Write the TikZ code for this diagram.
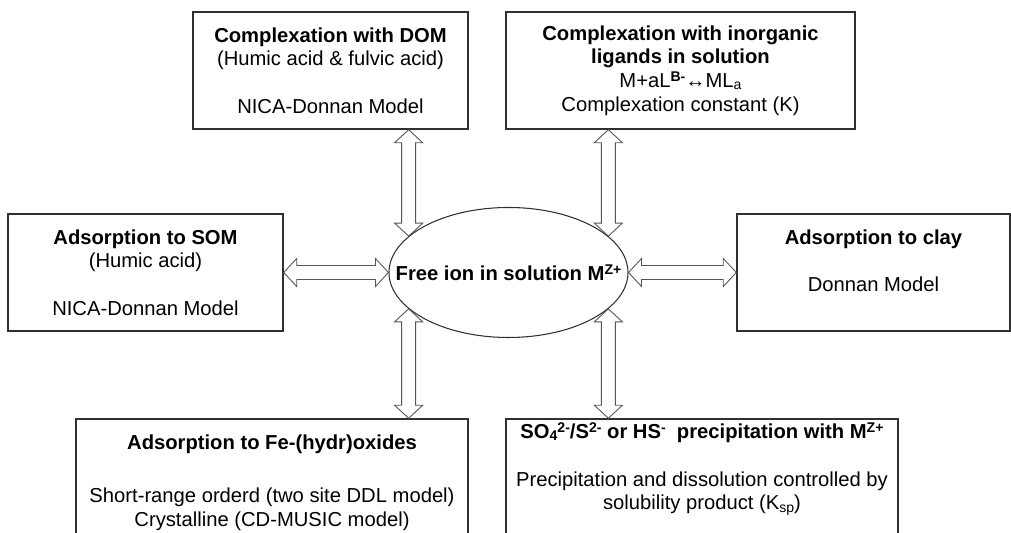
\documentclass[tikz,border=0pt]{standalone}
\usepackage{fontspec}
\setmainfont{Liberation Sans}
\usepackage{tikz}
\usetikzlibrary{positioning,calc}
\usetikzlibrary{shapes.geometric}

\definecolor{boxline}{HTML}{303030}
\definecolor{arrline}{HTML}{555555}

\newcommand{\upidx}[1]{\raisebox{0.3em}{\fontsize{8}{8}\selectfont #1}}
\newcommand{\lowidx}[1]{\raisebox{-0.12em}{\fontsize{8}{8}\selectfont #1}}

\newcommand{\twoway}[2]{%
  \coordinate (h1) at ($(#1)!0.26cm!(#2)$);
  \coordinate (h2) at ($(#2)!0.26cm!(#1)$);
  \draw[twoarrow] (#1) -- ($(h1)!0.28cm!90:(#2)$) -- ($(h1)!0.14cm!90:(#2)$)
    -- ($(h2)!0.14cm!-90:(#1)$) -- ($(h2)!0.28cm!-90:(#1)$) -- (#2)
    -- ($(h2)!0.28cm!90:(#1)$) -- ($(h2)!0.14cm!90:(#1)$)
    -- ($(h1)!0.14cm!-90:(#2)$) -- ($(h1)!0.28cm!-90:(#2)$) -- cycle;
}

\begin{document}
\begin{tikzpicture}[
  procbox/.style={draw=boxline, line width=0.8pt, align=center, minimum height=2.34cm,
    font=\fontsize{11.5}{13.5}\selectfont},
  textblock/.style={align=center, inner sep=0pt, font=\fontsize{11.5}{13.5}\selectfont},
  ionshape/.style={draw=boxline, ellipse, line width=0.6pt, minimum width=4.78cm, minimum height=2.6cm},
  twoarrow/.style={draw=arrline, line width=0.5pt, fill=white}]
  \useasboundingbox (0,0) rectangle (20.22,10.66);
  \clip (0,0) rectangle (20.22,10.66);

  \node[procbox, minimum width=5.5cm] (dom) at (6.61,9.25)
    {\textbf{Complexation with DOM}\\(Humic acid \& fulvic acid)\\[13.5pt]NICA-Donnan Model};
  \node[procbox, minimum width=6.98cm] (inorg) at (13.61,9.25)
    {\textbf{Complexation with inorganic}\\\textbf{ligands in solution}\\
     M+aL\upidx{\textbf{B-}}↔ML\lowidx{a}\\Complexation constant (K)};
  \node[procbox, minimum width=5.5cm] (som) at (2.91,5.21)
    {\textbf{Adsorption to SOM}\\(Humic acid)\\[13.5pt]NICA-Donnan Model};
  \node[procbox, minimum width=5.46cm] (clay) at (17.47,5.21)
    {\textbf{Adsorption to clay}\\[13.5pt]Donnan Model\\\mbox{}};
  \node[ionshape] (ion) at (10.17,5.21) {};
  \node[textblock] (iontext) at (ion) {\textbf{Free ion in solution M\upidx{Z+}}};
  \node[procbox, minimum width=7.84cm, minimum height=2.6cm] (feox) at (5.44,0.98) {};
  \node[textblock, anchor=north] (feoxtext) at ([yshift=-0.33cm]feox.north)
    {\textbf{Adsorption to Fe-(hydr)oxides}\\[0.58cm]Short-range orderd (two site DDL model)\\Crystalline (CD-MUSIC model)};
  \node[procbox, minimum width=7.84cm, minimum height=2.6cm] (precip) at (14.04,0.98) {};
  \node[textblock, anchor=north] (preciptext) at ([yshift=-0.08cm]precip.north)
    {\textbf{SO\lowidx{4}\upidx{2-}/S\upidx{2-} or HS\upidx{-}\ \ precipitation with M\upidx{Z+}}\\[0.48cm]Precipitation and dissolution controlled by\\solubility product (K\lowidx{sp})};

  \coordinate (a1) at (ion.160 |- dom.south);
  \coordinate (a2) at (ion.20 |- inorg.south);
  \coordinate (a3) at (ion.200 |- feox.north);
  \coordinate (a4) at (ion.340 |- precip.north);
  \twoway{a1}{ion.160}
  \twoway{a2}{ion.20}
  \twoway{som.east}{ion.west}
  \twoway{ion.east}{clay.west}
  \twoway{ion.200}{a3}
  \twoway{ion.340}{a4}
\end{tikzpicture}
\end{document}
